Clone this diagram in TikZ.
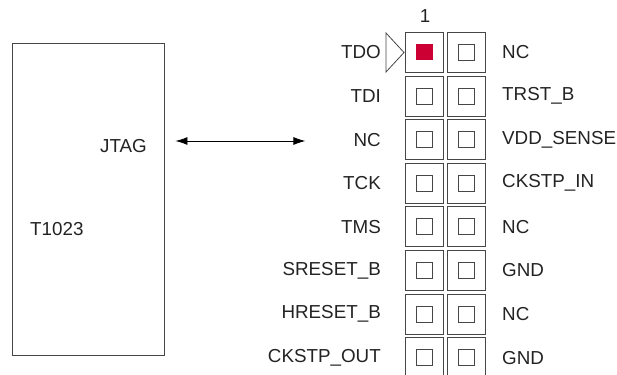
\documentclass[tikz,border=0pt]{standalone}
\usepackage{fontspec}
\setmainfont{Liberation Sans}
\usetikzlibrary{arrows.meta}
\definecolor{pinred}{RGB}{204,0,51}
\definecolor{edge}{RGB}{70,70,70}
\definecolor{txt}{RGB}{35,35,35}
\begin{document}
\begin{tikzpicture}[x=1pt,y=-1pt,
  lbl/.style={font=\fontsize{18.8}{21}\selectfont, text=txt, inner sep=0pt},
  pinbox/.style={draw=edge, line width=0.9pt, minimum width=38pt, minimum height=40pt, inner sep=0pt},
  pinhole/.style={draw=edge, line width=0.9pt, minimum width=16pt, minimum height=16pt, inner sep=0pt},
  pinone/.style={fill=pinred, minimum width=17pt, minimum height=16pt, inner sep=0pt},
  chipbox/.style={draw=edge, line width=0.9pt, minimum width=152pt, minimum height=312pt, inner sep=0pt}
]
\useasboundingbox (0,0) rectangle (617,374);
\clip (0,0) rectangle (617,374);
% chip
\node[chipbox] (chip) at (88,199) {};
\node[lbl, anchor=east] (jtag) at (147,146) {JTAG};
\node[lbl, anchor=west] (t1023) at (30,229) {T1023};
% pin header
\foreach \i/\l/\r in {0/TDO/NC,1/TDI/TRST\_B,2/NC/VDD\_SENSE,3/TCK/CKSTP\_IN,4/TMS/NC,5/SRESET\_B/GND,6/HRESET\_B/NC,7/CKSTP\_OUT/GND}{
  \pgfmathsetmacro{\yy}{52.5+43.6*\i}
  \node[pinbox] (pa\i) at (424.5,\yy) {};
  \node[pinbox] (pb\i) at (466,\yy) {};
  \node[lbl, anchor=east] (ll\i) at (381,\yy) {\l};
  \node[lbl, anchor=west] (rl\i) at (502,\yy) {\r};
  \node[pinhole] (hb\i) at (pb\i.center) {};
}
\foreach \i in {1,...,7}{
  \node[pinhole] (ha\i) at (pa\i.center) {};
}
\node[pinone] (ha0) at (pa0.center) {};
\node[lbl] (one) at (425,16) {1};
% pin-1 marker triangle
\draw[edge, line width=0.8pt] (386,33) -- (404,52.5) -- (386,72) -- cycle;
% arrow
\coordinate (as) at ([xshift=11pt]chip.east |- 0,141);
\coordinate (ae) at ([xshift=-48pt]ll2.west |- 0,141);
\draw[line width=0.9pt, {Latex[length=12pt,width=8pt]}-{Latex[length=12pt,width=8pt]}] (as) -- (ae);
\end{tikzpicture}
\end{document}
